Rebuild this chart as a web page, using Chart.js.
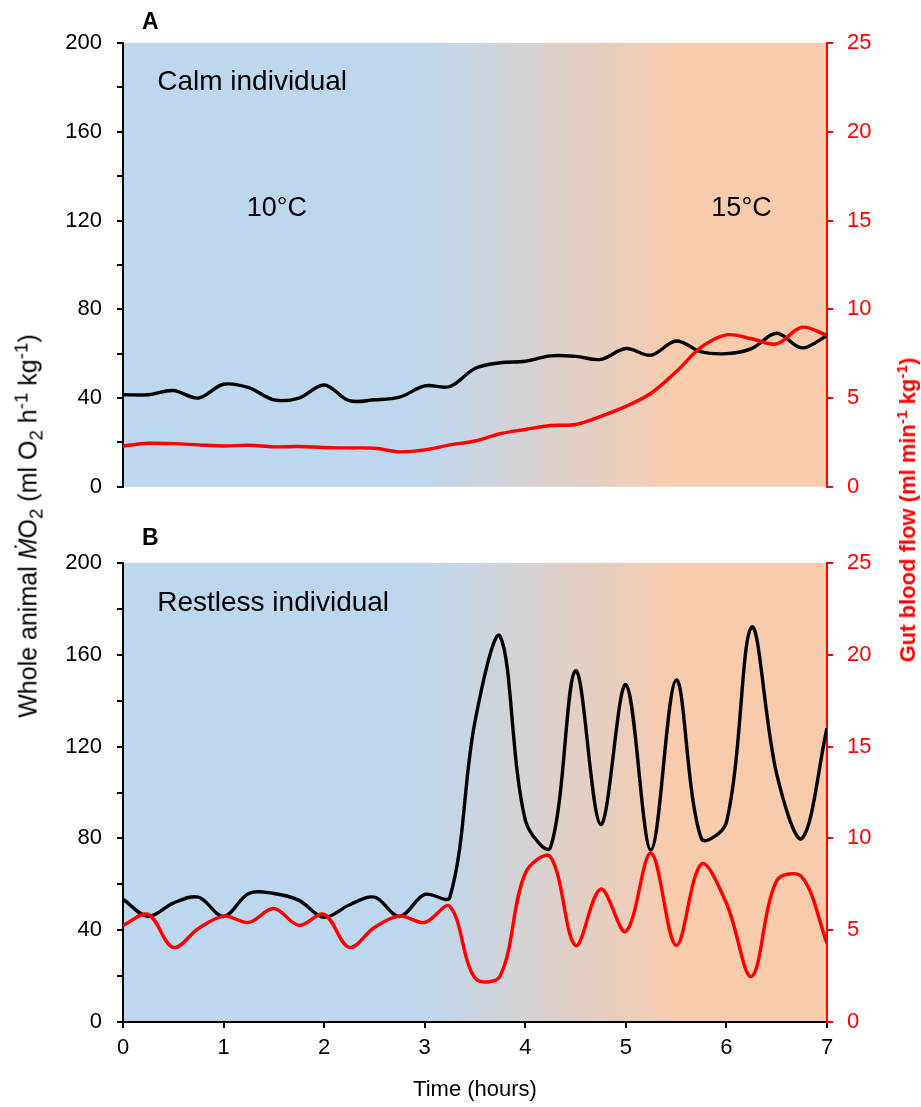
<!DOCTYPE html>
<html>
<head>
<meta charset="utf-8">
<script src="https://cdn.jsdelivr.net/npm/chart.js@4.4.1/dist/chart.umd.min.js"></script>
<style>
  body { margin: 0; background: #fff; font-family: "Liberation Sans", Arial, sans-serif; }
  #wrap { position: relative; width: 921px; height: 1107px; }
  canvas { position: absolute; left: 0; }
  .ytitle { position: absolute; white-space: nowrap; font-size: 25px; transform: translate(-50%, -50%) rotate(-90deg); }
  .ytitle sub, .ytitle sup { font-size: 75%; line-height: 0; }
  .ytitle.flow { font-size: 22px; }
  .ytitle.flow sup { font-size: 70%; }
</style>
</head>
<body>
<div id="wrap">
  <canvas id="chartA" width="921" height="515" style="top:0"></canvas>
  <canvas id="chartB" width="921" height="592" style="top:515px"></canvas>
  <div class="ytitle" style="left:28px; top:526px; color:#000">Whole animal <i>Ṁ</i>O<sub>2</sub> (ml O<sub>2</sub> h<sup>-1</sup> kg<sup>-1</sup>)</div>
  <div class="ytitle flow" style="left:908px; top:510px; color:#ff0000; font-weight:bold">Gut blood flow (ml min<sup>-1</sup> kg<sup>-1</sup>)</div>
</div>
<script>
// time axis (hours), one reading every 15 min
const hours = [0, 0.25, 0.5, 0.75, 1, 1.25, 1.5, 1.75, 2, 2.25, 2.5, 2.75, 3, 3.25, 3.5,
  3.75, 4, 4.25, 4.5, 4.75, 5, 5.25, 5.5, 5.75, 6, 6.25, 6.5, 6.75, 7];

// A - calm individual
const calmMO2 = [41.5, 41.5, 43.4, 40.0, 46.2, 44.7, 39.2, 40.0, 45.9, 38.8, 39.2, 40.4, 45.5, 45.2, 53.3,
  55.9, 56.6, 59.0, 58.8, 57.4, 62.3, 59.3, 65.7, 60.8, 60.0, 62.3, 69.2, 62.6, 68.2];
const calmFlow = [2.30, 2.45, 2.43, 2.36, 2.30, 2.34, 2.25, 2.27, 2.21, 2.19, 2.17, 1.97, 2.08, 2.36, 2.58,
  2.99, 3.23, 3.45, 3.51, 3.97, 4.53, 5.27, 6.48, 7.87, 8.56, 8.34, 8.05, 8.99, 8.53];

// B - restless individual
const restlessMO2 = [53.5, 46.0, 51.8, 54.4, 46.0, 56.0, 56.0, 53.0, 45.6, 51.0, 54.4, 46.0, 55.6, 54.4, 131,
  168, 88, 76, 153, 86, 147, 75, 149, 80, 87, 172, 108, 80, 128];
const restlessFlow = [5.26, 5.86, 4.06, 5.09, 5.77, 5.42, 6.18, 5.26, 5.86, 4.06, 5.15, 5.77, 5.42, 6.30, 2.40,
  2.50, 8.10, 9.00, 4.17, 7.24, 4.93, 9.20, 4.17, 8.60, 6.47, 2.48, 7.70, 7.90, 4.28];

const xTicks = [0, 1, 2, 3, 4, 5, 6, 7];
const mo2Ticks = [0, 40, 80, 120, 160, 200];
const flowTicks = [0, 5, 10, 15, 20, 25];

const FONT = '"Liberation Sans", Arial, sans-serif';
const COLD = '#BDD7EE';
const WARM = '#F8CBAD';

// blue -> orange background for the temperature change
const tempBg = {
  id: 'tempBg',
  beforeDraw(chart) {
    const { ctx, chartArea: a, scales: { x } } = chart;
    const g = ctx.createLinearGradient(x.getPixelForValue(2.95), 0, x.getPixelForValue(5.5), 0);
    g.addColorStop(0, COLD);
    g.addColorStop(1, WARM);
    ctx.save();
    ctx.fillStyle = g;
    ctx.fillRect(a.left, a.top, a.right - a.left, a.bottom - a.top);
    ctx.restore();
  }
};

// panel letter + text notes
const notes = {
  id: 'notes',
  afterDraw(chart, args, opts) {
    const { ctx, chartArea: a, scales: { x, y } } = chart;
    ctx.save();
    ctx.fillStyle = '#000';
    ctx.textBaseline = 'alphabetic';
    ctx.textAlign = 'left';
    ctx.font = 'bold 23px ' + FONT;
    ctx.fillText(opts.letter, a.left + 19, a.top - opts.letterGap);
    opts.items.forEach(n => {
      ctx.font = n.size + 'px ' + FONT;
      ctx.textAlign = n.align;
      ctx.fillText(n.text, x.getPixelForValue(n.x), y.getPixelForValue(n.y));
    });
    ctx.restore();
  }
};

function pts(vals) {
  return hours.map((h, i) => ({ x: h, y: vals[i] }));
}

function panel(id, mo2, flow, cfg) {
  return new Chart(document.getElementById(id), {
    type: 'line',
    data: {
      datasets: [
        { label: 'Gut blood flow', data: pts(flow), yAxisID: 'y2', borderColor: '#ff0000',
          borderWidth: 3.4, pointRadius: 0, tension: 0.35, order: 0 },
        { label: 'MO2', data: pts(mo2), yAxisID: 'y', borderColor: '#000000',
          borderWidth: 3.4, pointRadius: 0, tension: 0.35, order: 1 }
      ]
    },
    plugins: [tempBg, notes],
    options: {
      responsive: false,
      animation: false,
      devicePixelRatio: 1,
      layout: { padding: cfg.padding },
      plugins: {
        legend: { display: false },
        tooltip: { enabled: false },
        notes: { letter: cfg.letter, letterGap: cfg.letterGap, items: cfg.items }
      },
      scales: {
        x: {
          type: 'linear', min: 0, max: 7, display: cfg.showX,
          afterBuildTicks: s => { s.ticks = xTicks.map(v => ({ value: v })); },
          afterFit: s => { if (cfg.showX) s.height = 85; },
          ticks: { color: '#000', font: { family: FONT, size: 22 }, padding: 7, maxRotation: 0 },
          grid: { drawOnChartArea: false, color: '#000', tickLength: 6, lineWidth: 2 },
          border: { color: '#000', width: 2 },
          title: { display: true, text: 'Time (hours)', color: '#000', font: { family: FONT, size: 22 },
            padding: { top: 0, bottom: 4 } }
        },
        y: {
          position: 'left', min: 0, max: 200,
          ticks: { stepSize: 20, color: '#000', font: { family: FONT, size: 22 }, padding: 15,
            callback: v => mo2Ticks.includes(v) ? v : '' },
          afterFit: s => { s.width = 123; },
          grid: { drawOnChartArea: false, color: '#000', tickLength: 6, lineWidth: 2 },
          border: { color: '#000', width: 2 }
        },
        y2: {
          position: 'right', min: 0, max: 25,
          afterBuildTicks: s => { s.ticks = flowTicks.map(v => ({ value: v })); },
          ticks: { color: '#ff0000', font: { family: FONT, size: 22 }, padding: 14 },
          afterFit: s => { s.width = 94; },
          grid: { drawOnChartArea: false, color: '#ff0000', tickLength: 6, lineWidth: 2 },
          border: { color: '#ff0000', width: 2 }
        }
      }
    }
  });
}

panel('chartA', calmMO2, calmFlow, {
  letter: 'A', letterGap: 14, showX: false,
  padding: { top: 43, bottom: 22, left: 0, right: 0 },
  items: [
    { text: 'Calm individual', x: 0.34, y: 179, align: 'left', size: 28 },
    { text: '10°C', x: 1.53, y: 122, align: 'center', size: 27 },
    { text: '15°C', x: 6.15, y: 122, align: 'center', size: 27 }
  ]
});

panel('chartB', restlessMO2, restlessFlow, {
  letter: 'B', letterGap: 18, showX: true,
  padding: { top: 48, bottom: 0, left: 0, right: 0 },
  items: [
    { text: 'Restless individual', x: 0.34, y: 179, align: 'left', size: 28 }
  ]
});
</script>
</body>
</html>
